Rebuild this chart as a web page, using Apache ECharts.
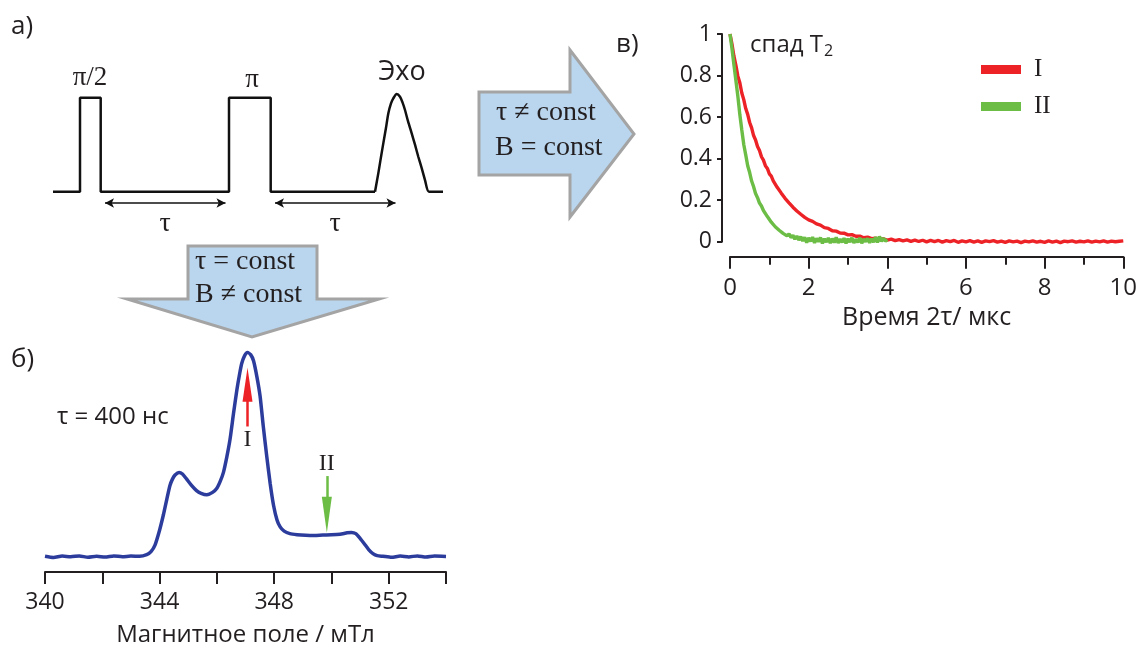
<!DOCTYPE html>
<html><head><meta charset="utf-8">
<script src="https://cdn.jsdelivr.net/npm/echarts@6/dist/echarts.min.js"></script>
<style>html,body{margin:0;padding:0;background:#fff}#c{width:1140px;height:648px}</style>
</head><body><div id="c"></div>
<script>
// ---------- Panel а: pulse sequence (time in arbitrary units, amplitude) ----------
const pulseSeq = [[0,0],[2.7,0],[2.7,1],[4.77,1],[4.77,0],[17.6,0],[17.6,1],[21.77,1],[21.77,0],[32.2,0]];
const echoShape = [[32.2,0],[32.53,0.195],[32.8,0.37],[33.03,0.514],[33.3,0.68],[33.53,0.833],[33.8,0.94],[34.03,0.993],[34.37,1.04],[34.7,1.01],[34.95,0.95],[35.2,0.869],[35.5,0.75],[35.87,0.62],[36.2,0.5],[36.53,0.372],[36.87,0.25],[37.2,0.124],[37.6,0],[39,0]];
const tauIntervals = [[5.2,17.25],[22.2,34.25]];
const tauLevel = -0.12;

// ---------- Panel б: echo-detected spectrum, tau = 400 ns ----------
const fieldMT = [340.0,340.3,340.6,340.9,341.2,341.5,341.8,342.1,342.4,342.7,343.0,343.3,343.55,343.7,343.84,344.0,344.13,344.25,344.36,344.45,344.54,344.68,344.8,344.94,345.1,345.29,345.45,345.65,345.85,346.0,346.12,346.23,346.35,346.46,346.58,346.7,346.8,346.87,346.97,347.07,347.18,347.28,347.4,347.51,347.62,347.74,347.86,347.98,348.1,348.21,348.35,348.55,348.8,349.1,349.4,349.7,350.0,350.3,350.55,350.7,350.85,351.0,351.15,351.3,351.45,351.6,351.8,352.1,352.4,352.7,353.0,353.3,353.6,354.0];
const echoIntensity = [0.002,-0.004,0.003,0.0,0.004,-0.003,0.002,-0.002,0.004,0.0,0.003,0.002,0.01,0.025,0.057,0.13,0.203,0.28,0.348,0.38,0.4,0.413,0.405,0.381,0.352,0.324,0.31,0.303,0.315,0.335,0.37,0.413,0.49,0.575,0.7,0.818,0.9,0.948,0.985,1.0,0.99,0.96,0.88,0.786,0.64,0.494,0.36,0.251,0.18,0.146,0.125,0.113,0.108,0.105,0.104,0.106,0.107,0.11,0.117,0.119,0.113,0.09,0.063,0.035,0.015,0.005,0.002,-0.003,0.003,-0.001,0.004,-0.002,0.003,0.001];
const fieldTicks = [340, 344, 348, 352];
const markI = {field: 347.07, from: 0.638, to: 0.842};
const markII = {field: 349.84, from: 0.395, to: 0.205};

// ---------- Panel в: T2 decay (time 2tau, us; normalized echo) ----------
const decayI = [[0,1.000],[0.05,0.952],[0.1,0.893],[0.15,0.849],[0.2,0.797],[0.25,0.765],[0.3,0.716],[0.35,0.684],[0.4,0.641],[0.45,0.613],[0.5,0.574],[0.55,0.548],[0.6,0.511],[0.65,0.49],[0.7,0.458],[0.75,0.439],[0.8,0.409],[0.85,0.393],[0.9,0.366],[0.95,0.353],[1.0,0.327],[1.05,0.316],[1.1,0.293],[1.15,0.284],[1.2,0.262],[1.25,0.253],[1.3,0.235],[1.35,0.227],[1.4,0.209],[1.45,0.203],[1.5,0.187],[1.55,0.182],[1.6,0.166],[1.65,0.163],[1.7,0.148],[1.75,0.146],[1.8,0.132],[1.85,0.131],[1.9,0.117],[1.95,0.117],[2.0,0.105],
[2.1,0.098],[2.2,0.086],[2.3,0.08],[2.4,0.068],[2.5,0.064],[2.6,0.053],[2.7,0.051],[2.8,0.042],[2.9,0.041],[3.0,0.033],[3.1,0.034],[3.2,0.026],[3.3,0.027],[3.4,0.019],[3.5,0.022],[3.6,0.015],[3.7,0.017],[3.8,0.011],[3.9,0.014],[4.0,0.008],[4.1,0.012],[4.2,0.005],[4.3,0.01],[4.4,0.004],[4.5,0.009],[4.6,0.002],[4.7,0.008],[4.8,0.001],[4.9,0.007],[5.0,-0.001],[5.1,0.006],[5.2,0.0],[5.3,0.006],[5.4,-0.002],[5.5,0.005],[5.6,0.0],[5.7,0.006],[5.8,-0.003],[5.9,0.004],[6.0,-0.001],[6.1,0.005],[6.2,-0.002],[6.3,0.004],[6.4,-0.003],[6.5,0.004],[6.6,0.0],[6.7,0.005],[6.8,-0.002],[6.9,0.003],[7.0,-0.003],[7.1,0.004],[7.2,-0.001],[7.3,0.003],[7.4,-0.004],[7.5,0.003],[7.6,-0.001],[7.7,0.004],[7.8,-0.002],[7.9,0.002],[8.0,-0.003],[8.1,0.004],[8.2,-0.002],[8.3,0.003],[8.4,-0.004],[8.5,0.003],[8.6,0.0],[8.7,0.004],[8.8,-0.002],[8.9,0.002],[9.0,-0.001],[9.1,0.004],[9.2,-0.002],[9.3,0.003],[9.4,-0.001],[9.5,0.004],[9.6,-0.002],[9.7,0.003],[9.8,0.0],[9.9,0.002],[10.0,0.004]];
const decayII = [[0,1.0],[0.05,0.93],[0.1,0.852],[0.15,0.776],[0.2,0.7],[0.25,0.612],[0.3,0.538],[0.35,0.468],[0.4,0.418],[0.45,0.366],[0.5,0.333],[0.55,0.292],[0.6,0.265],[0.65,0.232],[0.7,0.212],[0.75,0.186],[0.8,0.172],[0.85,0.15],[0.9,0.142],[0.95,0.121],[1.0,0.114],[1.05,0.094],[1.1,0.091],[1.15,0.072],[1.2,0.073],[1.25,0.055],[1.3,0.06],[1.35,0.04],[1.4,0.048],[1.45,0.028],[1.5,0.038],[1.55,0.02],[1.6,0.031],[1.65,0.012],[1.7,0.027],[1.75,0.008],[1.8,0.024],[1.85,0.003],[1.9,0.021],[1.95,-0.004],[2.0,0.018],[2.05,0.002],[2.1,0.022],[2.15,-0.006],[2.2,0.016],[2.25,0.0],[2.3,0.02],[2.35,-0.008],[2.4,0.014],[2.45,-0.002],[2.5,0.018],[2.55,-0.007],[2.6,0.015],[2.65,-0.004],[2.7,0.021],[2.75,-0.006],[2.8,0.013],[2.85,-0.003],[2.9,0.017],[2.95,-0.008],[3.0,0.014],[3.05,-0.002],[3.1,0.019],[3.15,-0.006],[3.2,0.012],[3.25,-0.003],[3.3,0.018],[3.35,-0.007],[3.4,0.013],[3.45,0.0],[3.5,0.016],[3.55,-0.005],[3.6,0.014],[3.65,-0.002],[3.7,0.022],[3.75,-0.004],[3.8,0.025],[3.85,0.002],[3.9,0.017],[3.95,0.003],[4.0,0.01]];
const seriesNames = ['I', 'II'];

// ---------- styles ----------
const INK = '#231f20';
const SANS = 'Open Sans';
const SERIF = 'Liberation Serif';
const RED = '#ec2227', GREEN = '#6cbd45', BLUE = '#2c3c9c';
const ARROW_FILL = '#bad6ee', ARROW_STROKE = '#a4a4a4';

function txt(x, y, text, size, family, align, extra) {
  return Object.assign({
    type: 'text', x: x, y: y, z: 100,
    style: {text: text, fontSize: size, fontFamily: family, fill: INK,
            align: align || 'left', textAlign: align || 'left',
            verticalAlign: 'middle', textVerticalAlign: 'middle'}
  }, extra || {});
}

const chart = echarts.init(document.getElementById('c'), null, {renderer: 'canvas'});
chart.setOption({
  animation: false,
  backgroundColor: '#fff',
  grid: [
    {left: 53, right: 697, top: 88.3, bottom: 437.5},
    {left: 45, right: 694, top: 342.4, bottom: 74.6},
    {left: 730, right: 12, top: 34, bottom: 406.3}
  ],
  xAxis: [
    {gridIndex: 0, type: 'value', min: 0, max: 39, show: false},
    {gridIndex: 1, type: 'value', min: 340, max: 354, interval: 2,
     axisLine: {onZero: false, lineStyle: {color: INK, width: 2}},
     axisTick: {length: 12, lineStyle: {color: INK, width: 2}},
     axisLabel: {margin: 19, fontSize: 23, fontFamily: SANS, color: INK,
                 formatter: v => fieldTicks.indexOf(v) >= 0 ? String(v) : ''},
     splitLine: {show: false},
     name: 'Магнитное поле / мТл', nameLocation: 'middle', nameGap: 51,
     nameTextStyle: {fontSize: 24, fontFamily: SANS, color: INK}},
    {gridIndex: 2, type: 'value', min: 0, max: 10, interval: 2, offset: 15,
     axisLine: {onZero: false, lineStyle: {color: INK, width: 2}},
     axisTick: {length: 12, lineStyle: {color: INK, width: 2}},
     minorTick: {show: true, splitNumber: 2, length: 8, lineStyle: {color: INK, width: 2}},
     axisLabel: {margin: 19, fontSize: 24, fontFamily: SANS, color: INK},
     splitLine: {show: false},
     name: 'Время 2τ/ мкс', nameLocation: 'middle', nameGap: 49,
     nameTextStyle: {fontSize: 25, fontFamily: SANS, color: INK}}
  ],
  yAxis: [
    {gridIndex: 0, type: 'value', min: -0.2, max: 1.1, show: false},
    {gridIndex: 1, type: 'value', min: -0.075, max: 1.05, show: false},
    {gridIndex: 2, type: 'value', min: 0, max: 1, interval: 0.2, offset: 8,
     axisLine: {show: true, onZero: false, lineStyle: {color: INK, width: 2}},
     axisTick: {show: true, length: 5, lineStyle: {color: INK, width: 2}},
     axisLabel: {margin: 10, fontSize: 23, fontFamily: SANS, color: INK},
     splitLine: {show: false}}
  ],
  legend: {
    data: seriesNames, orient: 'vertical', left: 976, top: 52,
    icon: 'rect', itemWidth: 40, itemHeight: 9, itemGap: 12,
    selectedMode: false,
    textStyle: {fontFamily: SERIF, fontSize: 25, color: INK, padding: [0, 0, 0, 8]}
  },
  series: [
    {type: 'line', name: 'pulses', xAxisIndex: 0, yAxisIndex: 0, data: pulseSeq,
     showSymbol: false, symbol: 'none', clip: false,
     lineStyle: {color: '#111', width: 2.5},
     markLine: {silent: true, animation: false, symbol: ['arrow', 'arrow'], symbolSize: [7, 9],
       lineStyle: {color: '#111', width: 1.5, type: 'solid'},
       label: {show: true, position: 'insideMiddleBottom', formatter: 'τ', distance: 7,
               fontFamily: SERIF, fontSize: 28, color: INK},
       data: tauIntervals.map(p => [{coord: [p[0], tauLevel]}, {coord: [p[1], tauLevel]}])}},
    {type: 'line', name: 'echo', xAxisIndex: 0, yAxisIndex: 0, data: echoShape,
     showSymbol: false, symbol: 'none', clip: false, smooth: 0.25,
     lineStyle: {color: '#111', width: 2.5}},
    {type: 'line', name: 'spectrum', xAxisIndex: 1, yAxisIndex: 1,
     data: fieldMT.map((f, i) => [f, echoIntensity[i]]),
     showSymbol: false, symbol: 'none', clip: false, smooth: 0.2,
     lineStyle: {color: BLUE, width: 3.5},
     markLine: {silent: true, animation: false, symbol: ['none', 'triangle'],
       data: [
         [{coord: [markI.field, markI.from], lineStyle: {color: RED, width: 2.5, type: 'solid'},
           label: {show: true, position: 'start', formatter: 'I', distance: 1,
                   fontFamily: SERIF, fontSize: 24, color: INK}},
          {coord: [markI.field, markI.to], symbolSize: [10, 34]}],
         [{coord: [markII.field, markII.from], lineStyle: {color: GREEN, width: 2.5, type: 'solid'},
           label: {show: true, position: 'start', formatter: 'II', distance: 0,
                   fontFamily: SERIF, fontSize: 24, color: INK}},
          {coord: [markII.field, markII.to], symbolSize: [10, 36]}]
       ]}},
    {type: 'line', name: seriesNames[0], xAxisIndex: 2, yAxisIndex: 2, data: decayI,
     showSymbol: false, symbol: 'none', clip: false, color: RED,
     lineStyle: {color: RED, width: 3.4}},
    {type: 'line', name: seriesNames[1], xAxisIndex: 2, yAxisIndex: 2, data: decayII,
     showSymbol: false, symbol: 'none', clip: false, color: GREEN,
     lineStyle: {color: GREEN, width: 3.4}}
  ],
  graphic: [
    // block arrows
    {type: 'polygon', z: 5, shape: {points: [[479,92],[570,92],[570,50],[634,134],[570,217],[570,175],[479,175]]},
     style: {fill: ARROW_FILL, stroke: ARROW_STROKE, lineWidth: 3}},
    {type: 'polygon', z: 5, shape: {points: [[188,246],[317,246],[317,299],[379,299],[252,337],[127,299],[188,299]]},
     style: {fill: ARROW_FILL, stroke: ARROW_STROKE, lineWidth: 3}},
    txt(496, 113, 'τ ≠ const', 28, SERIF),
    txt(495, 148, 'B = const', 28, SERIF),
    txt(195, 262, 'τ = const', 28, SERIF),
    txt(195, 295, 'B ≠ const', 28, SERIF),
    // panel labels
    txt(11, 27, 'а)', 26, SANS),
    txt(11, 360, 'б)', 26, SANS),
    txt(616, 45, 'в)', 26, SANS),
    // pulse labels
    txt(90, 78, 'π/2', 27, SERIF, 'center'),
    txt(252, 80, 'π', 27, SERIF, 'center'),
    txt(402, 72, 'Эхо', 27, SANS, 'center'),
    // spectrum annotation
    txt(57, 417, 'τ = 400 нс', 24, SANS),
    // decay title with subscript
    {type: 'text', x: 750, y: 45, z: 100,
     style: {text: '{a|спад T}{b|2}', fill: INK, align: 'left', textAlign: 'left',
             verticalAlign: 'middle', textVerticalAlign: 'middle',
             rich: {a: {fontSize: 24, fontFamily: SANS, fill: INK, color: INK},
                    b: {fontSize: 16, fontFamily: SANS, fill: INK, color: INK, padding: [13, 0, 0, 1]}}}}
  ]
});
</script>
</body></html>
